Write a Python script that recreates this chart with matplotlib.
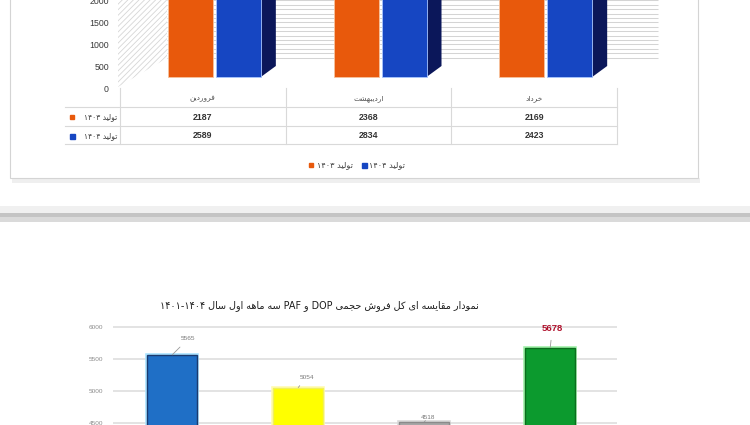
import numpy as np
import matplotlib
matplotlib.use('Agg')
import matplotlib.pyplot as plt
from matplotlib import font_manager
from matplotlib.ft2font import FT2Font
from matplotlib.patches import Rectangle, Polygon
from matplotlib.lines import Line2D
from matplotlib.transforms import ScaledTranslation, blended_transform_factory

# ---------------- data ----------------
months = ['فروردین', 'اردیبهشت', 'خرداد']
series_names = ['تولید ۱۴۰۳', 'تولید ۱۴۰۴']
prod_1403 = [2187, 2368, 2169]
prod_1404 = [2589, 2834, 2423]
top_yticks = [0, 500, 1000, 1500, 2000]

sales_title = 'نمودار مقایسه ای کل فروش حجمی DOP و PAF سه ماهه اول سال ۱۴۰۱-۱۴۰۴'
sales_values = [5565, 5054, 4518, 5678]
sales_yticks = [4500, 5000, 5500, 6000]

# ---------------- minimal Persian shaping ----------------
_font_path = font_manager.findfont('DejaVu Sans')
_cmap = FT2Font(_font_path).get_charmap()

FORMS = {
    '\u0627': (0xFE8D, 0xFE8E, None, None),
    '\u0628': (0xFE8F, 0xFE90, 0xFE91, 0xFE92),
    '\u062A': (0xFE95, 0xFE96, 0xFE97, 0xFE98),
    '\u062C': (0xFE9D, 0xFE9E, 0xFE9F, 0xFEA0),
    '\u062D': (0xFEA1, 0xFEA2, 0xFEA3, 0xFEA4),
    '\u062E': (0xFEA5, 0xFEA6, 0xFEA7, 0xFEA8),
    '\u062F': (0xFEA9, 0xFEAA, None, None),
    '\u0631': (0xFEAD, 0xFEAE, None, None),
    '\u0633': (0xFEB1, 0xFEB2, 0xFEB3, 0xFEB4),
    '\u0634': (0xFEB5, 0xFEB6, 0xFEB7, 0xFEB8),
    '\u0641': (0xFED1, 0xFED2, 0xFED3, 0xFED4),
    '\u0642': (0xFED5, 0xFED6, 0xFED7, 0xFED8),
    '\u0644': (0xFEDD, 0xFEDE, 0xFEDF, 0xFEE0),
    '\u0645': (0xFEE1, 0xFEE2, 0xFEE3, 0xFEE4),
    '\u0646': (0xFEE5, 0xFEE6, 0xFEE7, 0xFEE8),
    '\u0647': (0xFEE9, 0xFEEA, 0xFEEB, 0xFEEC),
    '\u0648': (0xFEED, 0xFEEE, None, None),
    '\u06A9': (0xFB8E, 0xFB8F, 0xFB90, 0xFB91),
    '\u06CC': (0xFBFC, 0xFBFD, 0xFBFE, 0xFBFF),
}
FALLBACK = {
    '\u06A9': (0xFED9, 0xFEDA, 0xFEDB, 0xFEDC),
    '\u06CC': (0xFEEF, 0xFEF0, 0xFEF3, 0xFEF4),
}


def _forms(c):
    f = FORMS[c]
    if all((g is None) or (g in _cmap) for g in f):
        return f
    return FALLBACK.get(c, f)


def _digits(s):
    if 0x06F4 in _cmap:
        return s
    return ''.join(chr(ord(ch) - 0x06F0 + 0x0660) if '\u06F0' <= ch <= '\u06F9' else ch for ch in s)


def _shape_word(word):
    out = []
    for i, c in enumerate(word):
        if c not in FORMS:
            out.append(c)
            continue
        f = _forms(c)
        prev = word[i - 1] if i > 0 else None
        nxt = word[i + 1] if i + 1 < len(word) else None
        jp = prev in FORMS and FORMS[prev][2] is not None
        jn = (nxt in FORMS) and f[2] is not None
        if jp and jn:
            g = f[3]
        elif jp:
            g = f[1]
        elif jn:
            g = f[2]
        else:
            g = f[0]
        out.append(chr(g))
    return ''.join(reversed(out))


def fa(text):
    words = text.split(' ')
    vis = []
    for w in reversed(words):
        if any(ch in FORMS for ch in w):
            vis.append(_shape_word(w))
        else:
            vis.append(_digits(w))
    return ' '.join(vis)


FA = ['DejaVu Sans']
NUM = ['Liberation Sans', 'DejaVu Sans']

# ---------------- figure ----------------
W, H = 750, 425
fig = plt.figure(figsize=(W / 100, H / 100), dpi=100)
fig.patch.set_facecolor('white')


def px_rect(x0, y0, x1, y1):
    return [x0 / W, 1 - y1 / H, (x1 - x0) / W, (y1 - y0) / H]


bg = fig.add_axes([0, 0, 1, 1], zorder=0)
bg.set_xlim(0, W)
bg.set_ylim(H, 0)
bg.axis('off')

# card of the first chart + shadow
bg.add_patch(Rectangle((12, 178), 688, 5, fc='#efefef', ec='none'))
bg.add_patch(Rectangle((10, -5), 688, 183, fc='white', ec='#d4d4d4', lw=0.8))
# separator bands between the two screenshots
bg.add_patch(Rectangle((0, 206), W, 7, fc='#f0f0f0', ec='none'))
bg.add_patch(Rectangle((0, 213), W, 4, fc='#c4c4c4', ec='none'))
bg.add_patch(Rectangle((0, 217), W, 5, fc='#dadada', ec='none'))

# 3D walls (decorative)
plt.rcParams['hatch.linewidth'] = 0.6
bg.add_patch(Polygon([(118, 87), (167, 58), (167, -5), (118, -5)], closed=True,
                     fc='white', ec='#d6d6d6', lw=0, hatch='//////'))
wall_lines = np.arange(57.5, -5, -4.4)
bg.hlines(wall_lines, 167, 658, color='#d4d4d4', lw=0.75)

# ---------------- top chart (production) ----------------
orange = '#e8590c'
blue = '#1646c2'
dark = '#0b175a'
ax1 = fig.add_axes(px_rect(120, -25, 658, 88), zorder=2)
ax1.patch.set_alpha(0)
pc = 165.67
ax1.set_xlim(-0.5, -0.5 + 538 / pc)
sc = 22 / 500
ax1.set_ylim(-(88 - 77) / sc, (77 + 25) / sc)
x = np.arange(len(months))
bw = 45 / pc
o_off = -12.5 / pc
b_off = 35.5 / pc
ax1.bar(x + o_off, prod_1403, bw, color=orange, ec='#f6c29e', lw=0.6, zorder=3)
ax1.bar(x + b_off, prod_1404, bw, color=blue, ec='#a9c6ff', lw=0.6, zorder=3)
dx = 15 / pc
dy = 11 / sc
for xi, v in zip(x, prod_1404):
    xr = xi + b_off + bw / 2
    ax1.add_patch(Polygon([(xr, 0), (xr + dx, dy), (xr + dx, v + dy), (xr, v)],
                          closed=True, fc=dark, ec='none', zorder=2))
ax1.set_xticks([])
ax1.set_yticks(top_yticks)
ax1.set_yticklabels([str(t) for t in top_yticks], family=NUM)
ax1.tick_params(axis='y', length=0, labelsize=6.3, labelcolor='#3a3a3a', pad=8)
for s in ax1.spines.values():
    s.set_visible(False)
off = ScaledTranslation(0, -0.11, fig.dpi_scale_trans)
for lab in ax1.get_yticklabels():
    lab.set_transform(lab.get_transform() + off)

# data table
tb = blended_transform_factory(ax1.transData, bg.transData)
grid_c = '#d9d9d9'
for yy in (107, 126, 144):
    bg.plot([65, 617], [yy, yy], color=grid_c, lw=0.8)
for i in range(len(months) + 1):
    fig.add_artist(Line2D([i - 0.5, i - 0.5], [88, 144], transform=tb, color=grid_c, lw=0.8))
for i, m in enumerate(months):
    fig.text(i, 99, fa(m), transform=tb, ha='center', va='center', fontsize=5.3,
             color='#505050', family=FA)
    fig.text(i, 117, str(prod_1403[i]), transform=tb, ha='center', va='center',
             fontsize=6.3, color='#333333', family=NUM, fontweight='bold')
    fig.text(i, 135.5, str(prod_1404[i]), transform=tb, ha='center', va='center',
             fontsize=6.3, color='#333333', family=NUM, fontweight='bold')
# row labels
bg.plot([72], [117], marker='s', ms=2.6, color=orange, lw=0)
bg.plot([72], [135.5], marker='s', ms=3.6, color=blue, lw=0)
bg.text(117, 117, fa(series_names[0]), ha='right', va='center', fontsize=5.5,
        color='#404040', family=FA)
bg.text(117, 135.5, fa(series_names[1]), ha='right', va='center', fontsize=5.5,
        color='#404040', family=FA)

# legend
handles = [Line2D([], [], marker='s', ms=2.6, color=orange, lw=0),
           Line2D([], [], marker='s', ms=3.6, color=blue, lw=0)]
leg = ax1.legend(handles, [fa(n) for n in series_names], loc='center',
                 bbox_to_anchor=(357 / W, 1 - 165 / H), bbox_transform=fig.transFigure,
                 ncol=2, frameon=False, handlelength=0.6, handletextpad=0.4,
                 columnspacing=1.0, prop={'family': FA, 'size': 5.9})
for t in leg.get_texts():
    t.set_color('#404040')

# ---------------- bottom chart (sales) ----------------
ax2 = fig.add_axes(px_rect(113, 318, 617, 470), zorder=2)
ax2.patch.set_alpha(0)
s2 = 32 / 500
ax2.set_ylim(4500 - (470 - 423) / s2, 6000 + (327 - 318) / s2)
ax2.set_xlim(-0.47, 3.53)
x2 = np.arange(len(sales_values))
fills = ['#1f6fc6', '#ffff00', '#a6a6a6', '#0c9a2e']
glows = ['#a9e2ff', '#fffbb0', '#d8d8d8', '#9ff0a8']
edges = ['#1c3a6e', '#f0f060', '#8a8a8a', '#0b6e1e']
ax2.bar(x2, sales_values, 0.397, color=fills, ec=glows, lw=2.6, zorder=3)
ax2.bar(x2, sales_values, 0.397, color=fills, ec=edges, lw=1.0, zorder=3)
ax2.set_yticks(sales_yticks)
ax2.set_yticklabels([str(t) for t in sales_yticks], family=NUM)
ax2.set_xticks([])
ax2.tick_params(axis='y', length=0, labelsize=4.6, labelcolor='#8c8c8c', pad=7)
ax2.grid(axis='y', color='#dedede', lw=1.2)
ax2.set_axisbelow(True)
for s in ax2.spines.values():
    s.set_visible(False)

label_offsets = [(11.5, 11.5), (6.0, 7.5), (3.0, 3.0), (1.5, 13.5)]
for i, v in enumerate(sales_values):
    last = i == len(sales_values) - 1
    ax2.annotate(str(v), xy=(i, v), xytext=label_offsets[i], textcoords='offset points',
                 ha='center', va='center', family=NUM,
                 fontsize=6.8 if last else 4.6,
                 fontweight='bold' if last else 'normal',
                 color='#b0102c' if last else '#7a7a7a',
                 arrowprops=dict(arrowstyle='-', color='#9a9a9a', lw=0.6,
                                 shrinkA=3, shrinkB=0),
                 zorder=4)

fig.text(319 / W, 1 - 306 / H, fa(sales_title), ha='center', va='center',
         fontsize=6.9, color='#1e1e1e', family=FA)

fig.savefig('out.png', dpi=100)
